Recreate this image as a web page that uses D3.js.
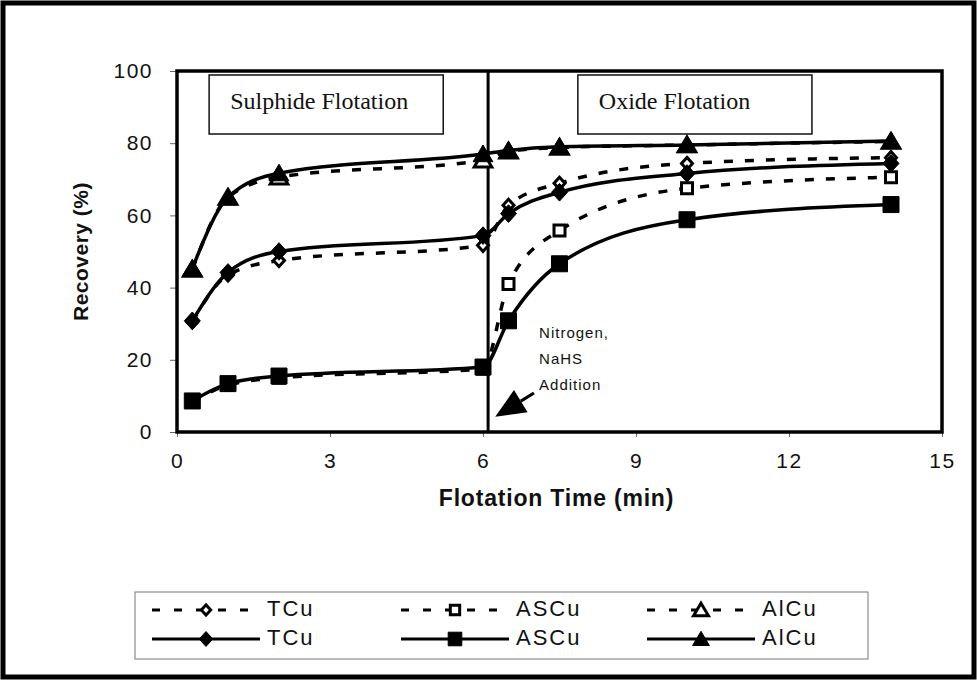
<!DOCTYPE html>
<html>
<head>
<meta charset="utf-8">
<script src="https://cdn.jsdelivr.net/npm/d3@7/dist/d3.min.js"></script>
<style>
	body { margin: 0; background: #fff; }
	svg text { font-family: "Liberation Sans", Arial, sans-serif; fill: #111; }
</style>
</head>
<body>
<svg id="chart" width="977" height="680" viewBox="0 0 977 680"></svg>
<script>
// flotation times (min) shared by every series
const time = [0.3, 1, 2, 6, 6.5, 7.5, 10, 14];

// recovery (%)
const tcuDashed  = [30.5, 43.5, 47.5, 51.7, 62.8, 68.9, 74.4, 76.0];
const ascuDashed = [8.3, 13.0, 15.0, 17.5, 41.0, 55.8, 67.5, 70.6];
const alcuDashed = [45.0, 65.0, 70.6, 75.3, 77.8, 78.8, 79.5, 80.5];
const tcuSolid   = [30.8, 44.2, 50.0, 54.4, 60.5, 66.4, 71.6, 74.4];
const ascuSolid  = [8.6, 13.4, 15.5, 18.0, 30.8, 46.6, 58.8, 63.0];
const alcuSolid  = [45.3, 65.0, 71.7, 77.0, 78.0, 79.0, 79.5, 80.6];

const seriesNames = ["TCu", "ASCu", "AlCu"];
const xTicks = [0, 3, 6, 9, 12, 15];
const yTicks = [0, 20, 40, 60, 80, 100];
const phaseLabels = ["Sulphide Flotation", "Oxide Flotation"];
const switchTime = 6.1;
const noteLines = ["Nitrogen,", "NaHS", "Addition"];

// custom marker shapes (d3's diamond is too narrow for this figure)
function markerPath(shape, s) {
	switch (shape) {
		case "diamond": return `M0,${-s * 1.1}L${s},0L0,${s * 1.1}L${-s},0Z`;
		case "square":  return `M${-s},${-s}H${s}V${s}H${-s}Z`;
		default:        return `M0,${-s}L${s * 1.1},${s * 0.85}L${-s * 1.1},${s * 0.85}Z`;
	}
}

const shapes = ["diamond", "square", "triangle"];
const series = [
	{ name: seriesNames[0], values: tcuDashed,  shape: shapes[0], dashed: true },
	{ name: seriesNames[1], values: ascuDashed, shape: shapes[1], dashed: true },
	{ name: seriesNames[2], values: alcuDashed, shape: shapes[2], dashed: true },
	{ name: seriesNames[0], values: tcuSolid,   shape: shapes[0], dashed: false },
	{ name: seriesNames[1], values: ascuSolid,  shape: shapes[1], dashed: false },
	{ name: seriesNames[2], values: alcuSolid,  shape: shapes[2], dashed: false }
];

const svg = d3.select("#chart");

// outer frame of the whole figure
svg.append("rect")
	.attr("x", 3).attr("y", 3)
	.attr("width", 971).attr("height", 674)
	.attr("fill", "none").attr("stroke", "#000").attr("stroke-width", 5);

const plot = { left: 177, right: 942, top: 71, bottom: 432 };

const x = d3.scaleLinear().domain([0, 15]).range([plot.left, plot.right]);
const y = d3.scaleLinear().domain([0, 100]).range([plot.bottom, plot.top]);

// Y axis
const yAxis = svg.append("g")
	.attr("transform", `translate(${plot.left},0)`)
	.call(d3.axisLeft(y).tickValues(yTicks).tickSize(7).tickPadding(17));
yAxis.select(".domain").remove();
yAxis.selectAll("line").attr("stroke", "#666");
yAxis.selectAll("text")
	.attr("font-size", 21).style("letter-spacing", "1.5px")
	.style("font-family", "'Liberation Sans', Arial, sans-serif");

// X axis
const xAxis = svg.append("g")
	.attr("transform", `translate(0,${plot.bottom})`)
	.call(d3.axisBottom(x).tickValues(xTicks).tickSize(5));
xAxis.select(".domain").remove();
xAxis.selectAll("line").attr("stroke", "#666");
xAxis.selectAll("text")
	.attr("y", 29).attr("dy", "0.35em")
	.attr("font-size", 21).style("letter-spacing", "1.5px")
	.style("font-family", "'Liberation Sans', Arial, sans-serif");

// axis titles
svg.append("text")
	.attr("transform", `translate(82,${(plot.top + plot.bottom) / 2}) rotate(-90)`)
	.attr("text-anchor", "middle").attr("dominant-baseline", "middle")
	.attr("font-size", 21).attr("font-weight", "bold")
	.style("letter-spacing", "0.5px")
	.text("Recovery (%)");

svg.append("text")
	.attr("x", (plot.left + plot.right) / 2 - 3).attr("y", 500)
	.attr("text-anchor", "middle").attr("dominant-baseline", "middle")
	.attr("font-size", 23).attr("font-weight", "bold")
	.style("letter-spacing", "0.8px")
	.text("Flotation Time (min)");

// phase label boxes
const phaseBoxes = [[0.63, 5.22], [7.86, 12.45]];
phaseLabels.forEach((label, i) => {
	const x0 = x(phaseBoxes[i][0]), x1 = x(phaseBoxes[i][1]);
	svg.append("rect")
		.attr("x", x0).attr("y", 75)
		.attr("width", x1 - x0).attr("height", 59)
		.attr("fill", "#fff").attr("stroke", "#111").attr("stroke-width", 1.5);
	svg.append("text")
		.attr("x", x0 + 21).attr("y", 103)
		.attr("dominant-baseline", "middle")
		.style("font-family", "'Liberation Serif', 'Times New Roman', serif")
		.attr("font-size", 24)
		.text(label);
});

// vertical line where the oxide stage starts
svg.append("line")
	.attr("x1", x(switchTime)).attr("x2", x(switchTime))
	.attr("y1", y(100)).attr("y2", y(0))
	.attr("stroke", "#000").attr("stroke-width", 3);

// smoothed curves; monotone keeps the flat stretches from sagging
const line = d3.line()
	.x((d, i) => x(time[i]))
	.y(d => y(d))
	.curve(d3.curveMonotoneX);

series.forEach(s => {
	svg.append("path")
		.attr("d", line(s.values))
		.attr("fill", "none")
		.attr("stroke", "#000")
		.attr("stroke-width", 3.5)
		.attr("stroke-dasharray", s.dashed ? "9,12" : null);
});

// markers (open for dashed series, filled for solid)
function drawMarker(g, shape, open, cx, cy, scale = 1) {
	const size = open ? (shape === "triangle" ? 8 : 5.5) : (shape === "triangle" ? 9 : 8);
	g.append("path")
		.attr("transform", `translate(${cx},${cy})`)
		.attr("d", markerPath(shape, size * scale))
		.attr("fill", open ? "#fff" : "#000")
		.attr("stroke", "#000")
		.attr("stroke-width", open ? 3 : 1);
}

series.forEach(s => {
	const g = svg.append("g");
	s.values.forEach((v, i) => drawMarker(g, s.shape, s.dashed, x(time[i]), y(v)));
});

// plot frame
svg.append("rect")
	.attr("x", plot.left).attr("y", plot.top)
	.attr("width", plot.right - plot.left).attr("height", plot.bottom - plot.top)
	.attr("fill", "none").attr("stroke", "#000").attr("stroke-width", 3.5);

// annotation: gas/reagent addition
const note = svg.append("g");
noteLines.forEach((t, i) => {
	note.append("text")
		.attr("x", x(7.1)).attr("y", y(27) + i * 26)
		.attr("dominant-baseline", "middle")
		.attr("font-size", 15).style("letter-spacing", "1px")
		.text(t);
});
const tip = [x(6.24), y(4.2)], tail = [x(7.0), y(10.8)];
const ang = Math.atan2(tail[1] - tip[1], tail[0] - tip[0]);
const headLen = 30, headHalf = 13;
const baseC = [tip[0] + headLen * Math.cos(ang), tip[1] + headLen * Math.sin(ang)];
note.append("line")
	.attr("x1", tail[0]).attr("y1", tail[1])
	.attr("x2", baseC[0]).attr("y2", baseC[1])
	.attr("stroke", "#000").attr("stroke-width", 3);
note.append("path")
	.attr("d", `M${tip[0]},${tip[1]}` +
		`L${baseC[0] - headHalf * Math.sin(ang)},${baseC[1] + headHalf * Math.cos(ang)}` +
		`L${baseC[0] + headHalf * Math.sin(ang)},${baseC[1] - headHalf * Math.cos(ang)}Z`)
	.attr("fill", "#000");

// legend
const legend = svg.append("g");
legend.append("rect")
	.attr("x", 135).attr("y", 592).attr("width", 733).attr("height", 67)
	.attr("fill", "none").attr("stroke", "#777").attr("stroke-width", 1);

const colX = [152, 401, 647], rowY = [610, 639], swatchW = 108;
series.forEach((s, k) => {
	const col = k % 3, row = s.dashed ? 0 : 1;
	const x0 = colX[col], yy = rowY[row];
	legend.append("line")
		.attr("x1", x0).attr("x2", x0 + swatchW)
		.attr("y1", yy).attr("y2", yy)
		.attr("stroke", "#000").attr("stroke-width", 3)
		.attr("stroke-dasharray", s.dashed ? "8,14" : null);
	drawMarker(legend, s.shape, s.dashed, x0 + swatchW / 2, yy, 0.85);
	legend.append("text")
		.attr("x", x0 + swatchW + 7).attr("y", yy)
		.attr("dominant-baseline", "middle")
		.attr("font-size", 22).style("letter-spacing", "2px")
		.text(s.name);
});
</script>
</body>
</html>
